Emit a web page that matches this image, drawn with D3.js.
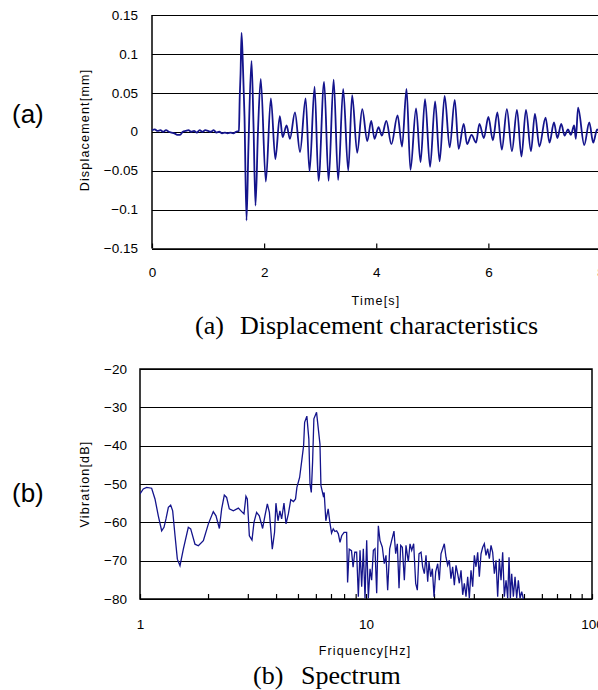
<!DOCTYPE html>
<html>
<head>
<meta charset="utf-8">
<script src="https://cdn.jsdelivr.net/npm/d3@7"></script>
<style>
  html, body { margin: 0; padding: 0; background: #fff; }
  svg { display: block; }
</style>
</head>
<body>
<svg id="chart" width="598" height="690"></svg>
<script>
// ---------- Data: (a) displacement vs time ----------
const dispTime = [
  0.00, 0.05, 0.10, 0.15, 0.20, 0.25, 0.30, 0.35, 0.40, 0.45, 0.50, 0.55, 0.60, 0.65, 0.70, 0.75,
  0.80, 0.85, 0.90, 0.95, 1.00, 1.05, 1.10, 1.15, 1.20, 1.25, 1.30, 1.35, 1.40, 1.45, 1.50, 1.55,
  1.565, 1.58, 1.597, 1.62, 1.65, 1.686, 1.72, 1.775, 1.81, 1.846, 1.89, 1.94, 2.03, 2.12, 2.20,
  2.28, 2.33, 2.40, 2.46, 2.55, 2.64, 2.74, 2.81, 2.90, 2.97, 3.07, 3.15, 3.24, 3.32, 3.41, 3.50,
  3.57, 3.66, 3.75, 3.84, 3.91, 3.97, 4.04, 4.10, 4.18, 4.27, 4.38, 4.46, 4.54, 4.61, 4.71, 4.79,
  4.87, 4.96, 5.05, 5.13, 5.22, 5.31, 5.40, 5.47, 5.56, 5.62, 5.70, 5.78, 5.84, 5.92, 6.00, 6.08,
  6.16, 6.24, 6.33, 6.42, 6.51, 6.59, 6.67, 6.76, 6.83, 6.91, 7.02, 7.09, 7.17, 7.23, 7.30, 7.36,
  7.42, 7.47, 7.53, 7.56, 7.60, 7.71, 7.80, 7.87, 7.94, 8.00
];
const dispValue = [
  0.002, 0.003, 0.001, 0.002, 0.000, 0.002, 0.000, -0.001, -0.002, -0.004, -0.004, 0.000, 0.001, 0.002, 0.000, 0.001,
  -0.001, 0.002, 0.000, 0.002, 0.001, 0.000, 0.002, -0.001, 0.000, -0.002, -0.001, -0.002, -0.001, -0.002, 0.000, 0.001,
  0.045, 0.075, 0.127, 0.089, 0.020, -0.114, -0.020, 0.091, 0.010, -0.095, 0.000, 0.068, -0.064, 0.043, -0.035,
  0.020, -0.007, 0.008, -0.009, 0.025, -0.026, 0.043, -0.051, 0.058, -0.063, 0.064, -0.063, 0.067, -0.062, 0.055, -0.050,
  0.047, -0.027, 0.029, -0.012, 0.014, -0.009, 0.006, -0.005, 0.014, -0.016, 0.021, -0.019, 0.055, -0.049, 0.030, -0.039,
  0.042, -0.045, 0.039, -0.038, 0.046, -0.020, 0.041, -0.022, 0.010, -0.016, -0.004, -0.014, 0.010, -0.008, 0.019, -0.011,
  0.025, -0.023, 0.029, -0.025, 0.028, -0.032, 0.028, -0.025, 0.023, -0.019, 0.018, -0.014, 0.012, -0.008, 0.010, -0.005,
  0.003, -0.004, 0.008, -0.009, 0.031, -0.017, 0.012, -0.014, 0.003, -0.005
];
const timeTicks = [0, 2, 4, 6, 8];
const dispTicks = [-0.15, -0.1, -0.05, 0, 0.05, 0.1, 0.15];
const dispTickLabels = ["\u22120.15", "\u22120.1", "\u22120.05", "0", "0.05", "0.1", "0.15"];

// ---------- Data: (b) spectrum ----------
const freqHz = [
  1.000, 1.034, 1.070, 1.126, 1.165, 1.205, 1.247, 1.277, 1.303, 1.335, 1.367, 1.395, 1.429, 1.463, 1.503, 1.555,
  1.636, 1.676, 1.751, 1.812, 1.907, 2.007, 2.110, 2.169, 2.245, 2.298, 2.361, 2.417, 2.484, 2.588, 2.724, 2.818,
  2.885, 2.943, 2.984, 3.047, 3.130, 3.194, 3.280, 3.371, 3.488, 3.571, 3.660, 3.737, 3.849, 3.939, 3.995, 4.079,
  4.159, 4.234, 4.336, 4.427, 4.534, 4.646, 4.777, 4.878, 4.946, 5.085, 5.207, 5.296, 5.351, 5.474, 5.586, 5.652,
  5.727, 5.803, 5.880, 6.042, 6.256, 6.318, 6.466, 6.530, 6.642, 6.802, 6.920, 7.040, 7.163, 7.287, 7.414, 7.543,
  7.674, 7.807, 7.999, 8.210, 8.291, 8.429, 8.626, 8.767, 8.920,
  9.09, 9.25, 9.41, 9.57, 9.73, 9.90, 10.07, 10.24, 10.42, 10.59, 10.78, 10.96, 11.15, 11.34, 11.53, 11.81,
  12.05, 12.26, 12.47, 12.73, 12.99, 13.30, 13.53, 13.76, 14.00, 14.24, 14.48, 14.78, 15.03, 15.39, 15.66, 15.93,
  16.25, 16.59, 16.87, 17.16, 17.52, 17.81, 18.12, 18.43, 18.75, 19.00, 19.33, 19.66, 20.00, 20.34, 20.76, 21.11,
  21.47, 21.84, 22.21, 22.59, 22.98, 23.37, 23.77, 24.18, 24.60, 25.02, 25.44, 25.88, 26.33, 26.78, 27.24, 27.70,
  28.18, 28.66, 29.15, 29.65, 30.16, 30.67, 31.20, 31.73, 32.28, 32.83, 33.39, 33.96, 34.55, 35.14, 35.74, 36.35,
  36.98, 37.61, 38.25, 38.91, 39.58, 40.25, 40.94, 41.65, 42.36, 42.94, 43.53, 44.12, 44.88, 45.65, 46.42, 47.22,
  48.03, 48.86, 49.69
];
const vibrationDb = [
  -52.6, -51.3, -50.9, -51.1, -53.9, -58.3, -62.2, -61.3, -59.1, -56.1, -55.5, -57.0, -63.5, -69.6, -71.3, -67.0,
  -61.3, -61.7, -65.7, -66.1, -64.8, -60.4, -57.2, -58.3, -61.6, -56.5, -52.9, -53.5, -56.5, -57.0, -56.3, -57.2,
  -57.8, -53.2, -53.9, -63.5, -64.6, -60.0, -57.4, -58.3, -61.6, -58.3, -55.2, -57.4, -67.0, -62.6, -55.0, -59.6,
  -57.0, -59.1, -55.0, -60.4, -57.8, -54.1, -54.6, -53.9, -50.9, -48.3, -43.5, -40.0, -33.9, -32.3, -38.3, -50.0,
  -52.2, -44.3, -33.0, -31.3, -39.6, -50.4, -53.0, -52.2, -59.6, -56.5, -60.0, -62.8, -61.7, -62.4, -62.2, -63.0,
  -65.2, -63.5, -62.6, -62.6, -75.7, -67.0, -67.4, -71.7, -67.8,
  -67.8, -79.4, -67.3, -76.8, -66.9, -79.8, -64.7, -79.8, -72.1, -75.1, -67.3, -66.9, -78.5, -60.9, -64.7, -66.5,
  -70.8, -68.6, -77.7, -66.9, -64.7, -62.3, -68.2, -65.6, -77.2, -66.0, -66.5, -75.1, -66.0, -70.3, -65.6, -67.3,
  -65.6, -75.9, -77.7, -68.2, -67.8, -71.6, -73.4, -68.6, -75.5, -70.3, -74.2, -72.1, -79.4, -72.9, -70.8, -75.1,
  -68.2, -66.9, -65.6, -69.1, -71.2, -69.9, -74.7, -71.6, -76.4, -71.2, -73.4, -75.9, -72.5, -78.9, -75.9, -79.4,
  -74.2, -79.8, -72.5, -76.8, -68.6, -71.6, -67.8, -74.2, -68.2, -66.5, -65.6, -68.6, -66.9, -69.5, -66.0, -67.8,
  -73.4, -69.9, -79.4, -69.5, -75.1, -67.8, -79.4, -75.1, -79.8, -69.1, -79.8, -73.4, -79.4, -74.2, -79.8, -75.1,
  -79.8, -78.1, -80.0
];
const dbTicks = [-80, -70, -60, -50, -40, -30, -20];
const freqTicks = [1, 10, 100];
const freqMinorTicks = [2, 3, 4, 5, 6, 7, 8, 9, 20, 30, 40, 50, 60, 70, 80, 90];

// ---------- Drawing ----------
const svg = d3.select("#chart");
const lineColor = "#14148c";
const sans = "'Liberation Sans', Arial, sans-serif";
const serif = "'Liberation Serif', 'Times New Roman', serif";

// ===== Chart (a) =====
const A = { left: 152, right: 600.5, top: 15, bottom: 248.5 };
const xA = d3.scaleLinear().domain([0, 8]).range([A.left, A.right]);
const yA = d3.scaleLinear().domain([-0.15, 0.15]).range([A.bottom, A.top]);

const gA = svg.append("g");
gA.selectAll("line.grid").data(dispTicks).join("line")
  .attr("x1", A.left).attr("x2", 598)
  .attr("y1", d => Math.round(yA(d)) + 0.5).attr("y2", d => Math.round(yA(d)) + 0.5)
  .attr("stroke", "#000").attr("stroke-width", 1.2);
gA.append("line").attr("x1", A.left).attr("x2", A.left).attr("y1", A.top).attr("y2", A.bottom)
  .attr("stroke", "#000").attr("stroke-width", 1.5);
const axA = gA.append("g").attr("transform", `translate(0,${A.bottom})`)
  .call(d3.axisBottom(xA).tickValues(timeTicks).tickSizeInner(-5).tickSizeOuter(0).tickPadding(19).tickFormat(d3.format("d")));
axA.select(".domain").attr("stroke", "#000").attr("stroke-width", 1.5);
axA.selectAll(".tick line").attr("stroke", "#000").attr("stroke-width", 1.2);
axA.selectAll(".tick text").attr("font-family", sans).attr("font-size", 13.5).attr("fill", "#000");
gA.selectAll("text.ylab").data(dispTicks).join("text")
  .attr("x", 138).attr("y", d => yA(d)).attr("dy", "0.35em")
  .attr("text-anchor", "end").attr("font-family", sans).attr("font-size", 13.5)
  .text((d, i) => dispTickLabels[i]);
const dispData = dispTime.map((t, i) => ({ t, v: dispValue[i] }));
gA.append("path").datum(dispData)
  .attr("fill", "none").attr("stroke", lineColor).attr("stroke-width", 1.8)
  .attr("d", d3.line().x(d => xA(d.t)).y(d => yA(d.v)).curve(d3.curveMonotoneX));
svg.append("text").attr("transform", "translate(89,130) rotate(-90)")
  .attr("text-anchor", "middle").attr("font-family", sans).attr("font-size", 12.5)
  .attr("letter-spacing", 1.2).text("Displacement[mm]");
svg.append("text").attr("x", 376).attr("y", 305).attr("text-anchor", "middle")
  .attr("font-family", sans).attr("font-size", 12.5).attr("letter-spacing", 1.2).text("Time[s]");
svg.append("text").attr("x", 12).attr("y", 123).attr("font-family", sans).attr("font-size", 26).text("(a)");
svg.append("text").attr("x", 195).attr("y", 334).attr("font-family", serif).attr("font-size", 26).text("(a)");
svg.append("text").attr("x", 240).attr("y", 334).attr("font-family", serif).attr("font-size", 26).text("Displacement characteristics");

// ===== Chart (b) =====
const B = { left: 140, right: 592, top: 369, bottom: 599 };
const xB = d3.scaleLog().domain([1, 100]).range([B.left, B.right]);
const yB = d3.scaleLinear().domain([-80, -20]).range([B.bottom, B.top]);

const gB = svg.append("g");
svg.append("clipPath").attr("id", "clipB").append("rect")
  .attr("x", B.left).attr("y", B.top).attr("width", B.right - B.left).attr("height", B.bottom - B.top);
gB.selectAll("line.grid").data(dbTicks).join("line")
  .attr("x1", B.left).attr("x2", B.right)
  .attr("y1", d => Math.round(yB(d)) + 0.5).attr("y2", d => Math.round(yB(d)) + 0.5)
  .attr("stroke", "#000").attr("stroke-width", 1.2);
const axB = gB.append("g").attr("transform", `translate(0,${B.bottom})`)
  .call(d3.axisBottom(xB).tickValues(freqTicks.concat(freqMinorTicks)).tickSizeInner(-5).tickSizeOuter(0).tickPadding(20)
    .tickFormat(d => freqTicks.includes(d) ? String(d) : ""));
axB.select(".domain").remove();
axB.selectAll(".tick line").attr("stroke", "#000").attr("stroke-width", 1.2);
axB.selectAll(".tick text").attr("font-family", sans).attr("font-size", 13.5).attr("fill", "#000");
gB.append("rect").attr("x", B.left).attr("y", B.top).attr("width", B.right - B.left).attr("height", B.bottom - B.top)
  .attr("fill", "none").attr("stroke", "#000").attr("stroke-width", 1.5);
gB.selectAll("text.ylab").data(dbTicks).join("text")
  .attr("x", 127).attr("y", d => yB(d)).attr("dy", "0.35em")
  .attr("text-anchor", "end").attr("font-family", sans).attr("font-size", 13.5)
  .text(d => d3.format("d")(d).replace("-", "\u2212"));
const specData = freqHz.map((f, i) => ({ f, v: vibrationDb[i] }));
gB.append("path").datum(specData).attr("clip-path", "url(#clipB)")
  .attr("fill", "none").attr("stroke", lineColor).attr("stroke-width", 1.3)
  .attr("d", d3.line().x(d => xB(d.f)).y(d => yB(d.v)));
svg.append("text").attr("transform", "translate(89,484) rotate(-90)")
  .attr("text-anchor", "middle").attr("font-family", sans).attr("font-size", 12.5)
  .attr("letter-spacing", 1.2).text("Vibration[dB]");
svg.append("text").attr("x", 365).attr("y", 655).attr("text-anchor", "middle")
  .attr("font-family", sans).attr("font-size", 12.5).attr("letter-spacing", 1.2).text("Friquency[Hz]");
svg.append("text").attr("x", 12).attr("y", 502).attr("font-family", sans).attr("font-size", 26).text("(b)");
svg.append("text").attr("x", 253).attr("y", 684).attr("font-family", serif).attr("font-size", 26).text("(b)");
svg.append("text").attr("x", 301).attr("y", 684).attr("font-family", serif).attr("font-size", 26).text("Spectrum");
</script>
</body>
</html>
